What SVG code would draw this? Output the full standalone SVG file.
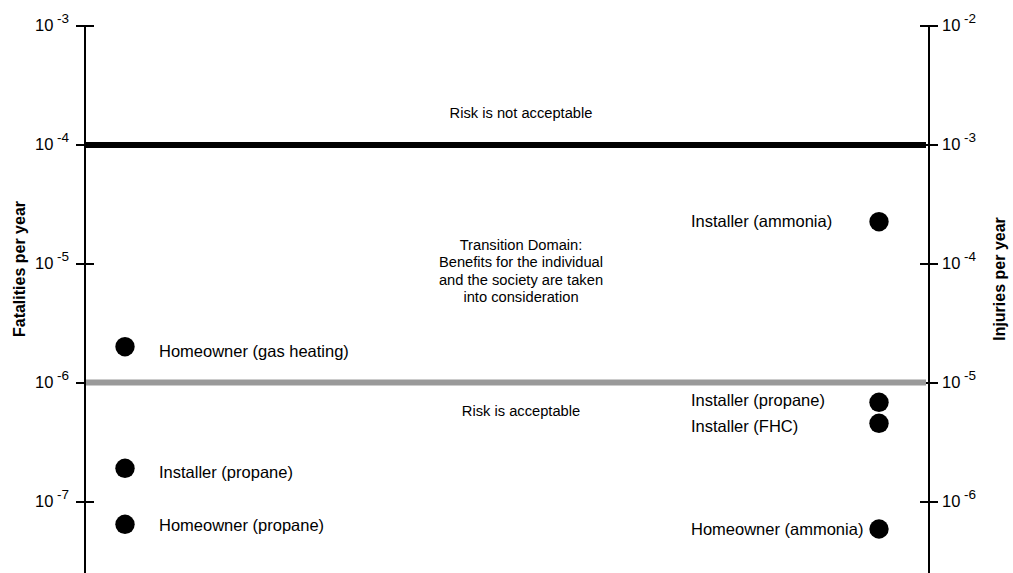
<svg xmlns="http://www.w3.org/2000/svg" width="1013" height="573" viewBox="0 0 1013 573">
<style>
text{font-family:"Liberation Sans",Arial,sans-serif;fill:#000}
.axis{stroke:#000;stroke-width:2;fill:none}
.tl{font-size:16.5px}
.sup{font-size:13.5px}
.lab{font-size:16.5px}
.mid{font-size:14.7px;text-anchor:middle}
.title{font-size:16px;font-weight:bold;text-anchor:middle}
.dot{fill:#000}
</style>
<rect width="1013" height="573" fill="#fff"/>
<g id="axes">
<path class="axis" d="M85 26V573M929 26V573"/>
<path class="axis" d="M76 26H94M76 145H94M76 264H94M76 383H94M76 502H94"/>
<path class="axis" d="M920 26H938M920 145H938M920 264H938M920 383H938M920 502H938"/>
</g>
<g id="thresholds">
<line x1="86" y1="145" x2="926" y2="145" stroke="#000" stroke-width="6"/>
<line x1="86" y1="382.5" x2="926" y2="382.5" stroke="#9a9a9a" stroke-width="6"/>
</g>
<g id="left-ticks">
<text class="tl" x="35" y="31">10</text><text class="sup" x="57" y="23">-3</text>
<text class="tl" x="35" y="150">10</text><text class="sup" x="57" y="142">-4</text>
<text class="tl" x="35" y="269">10</text><text class="sup" x="57" y="261">-5</text>
<text class="tl" x="35" y="388">10</text><text class="sup" x="57" y="380">-6</text>
<text class="tl" x="35" y="507">10</text><text class="sup" x="57" y="499">-7</text>
</g>
<g id="right-ticks">
<text class="tl" x="942" y="31">10</text><text class="sup" x="964" y="23">-2</text>
<text class="tl" x="942" y="150">10</text><text class="sup" x="964" y="142">-3</text>
<text class="tl" x="942" y="269">10</text><text class="sup" x="964" y="261">-4</text>
<text class="tl" x="942" y="388">10</text><text class="sup" x="964" y="380">-5</text>
<text class="tl" x="942" y="507">10</text><text class="sup" x="964" y="499">-6</text>
</g>
<g id="axis-titles">
<text class="title" transform="translate(24.5 269) rotate(-90)">Fatalities per year</text>
<text class="title" transform="translate(1005 279) rotate(-90)">Injuries per year</text>
</g>
<g id="zones">
<text class="mid" x="521" y="118">Risk is not acceptable</text>
<text class="mid" x="521" y="249.5">Transition Domain:</text>
<text class="mid" x="521" y="267">Benefits for the individual</text>
<text class="mid" x="521" y="284.5">and the society are taken</text>
<text class="mid" x="521" y="302">into consideration</text>
<text class="mid" x="521" y="416">Risk is acceptable</text>
</g>
<g id="p-homeowner-gas"><circle class="dot" cx="125" cy="346.7" r="9.7"/><text class="lab" x="159" y="357">Homeowner (gas heating)</text></g>
<g id="p-installer-propane-l"><circle class="dot" cx="125" cy="468.3" r="9.7"/><text class="lab" x="159" y="477.5">Installer (propane)</text></g>
<g id="p-homeowner-propane"><circle class="dot" cx="125" cy="524.3" r="9.7"/><text class="lab" x="159" y="531">Homeowner (propane)</text></g>
<g id="p-installer-ammonia"><circle class="dot" cx="879" cy="221.7" r="9.7"/><text class="lab" x="691" y="227">Installer (ammonia)</text></g>
<g id="p-installer-propane-r"><circle class="dot" cx="879" cy="402.3" r="9.7"/><text class="lab" x="691" y="406">Installer (propane)</text></g>
<g id="p-installer-fhc"><circle class="dot" cx="879" cy="423.3" r="9.7"/><text class="lab" x="691" y="432.3">Installer (FHC)</text></g>
<g id="p-homeowner-ammonia"><circle class="dot" cx="879" cy="529" r="9.7"/><text class="lab" x="691" y="535">Homeowner (ammonia)</text></g>
</svg>
